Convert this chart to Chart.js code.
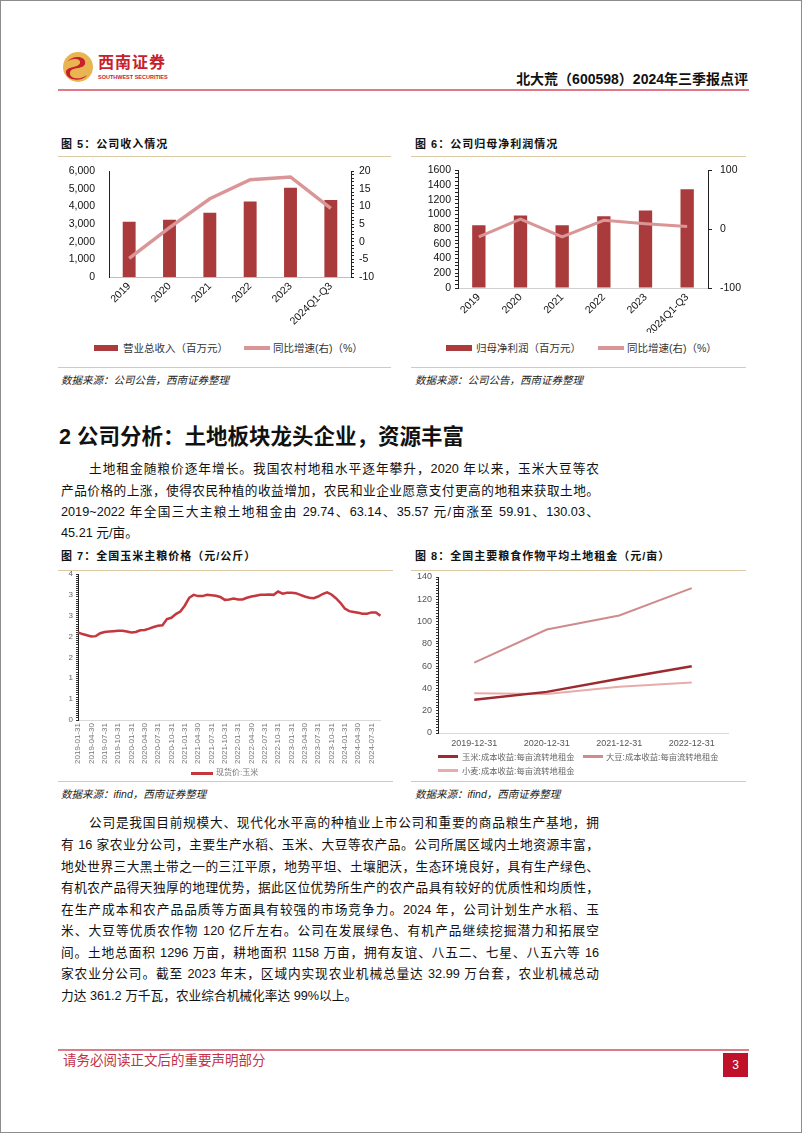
<!DOCTYPE html>
<html>
<head>
<meta charset="utf-8">
<script src="https://cdn.jsdelivr.net/npm/chart.js@4.4.0/dist/chart.umd.min.js"></script>
<style>
  html, body { margin: 0; padding: 0; background: #fff; }
  #page { position: relative; width: 802px; height: 1133px; box-sizing: border-box; border: 1px solid #8c8c8c; overflow: hidden;
          font-family: "Liberation Sans", "Noto Sans CJK SC", sans-serif; color: #111; }
  .abs { position: absolute; }
  .rule { position: absolute; height: 1px; background: #dccaa6; }
  .ftitle { position: absolute; font-size: 11px; font-weight: bold; letter-spacing: 1px; line-height: 14px; white-space: nowrap; }
  .src { position: absolute; font-size: 10.5px; font-style: italic; line-height: 14px; white-space: nowrap; color: #222; }
  .ln { position: absolute; left: 60px; width: 538px; font-size: 12.7px; line-height: 20px; white-space: nowrap;
        text-align: justify; text-align-last: justify; }
  .ln.ind { left: 88px; width: 510px; }
  .ln.last { text-align-last: left; }
  .lg { position: absolute; white-space: nowrap; line-height: 14px; }
  .sw { position: absolute; }
  canvas { position: absolute; }
</style>
</head>
<body>
<div id="page">
  <!-- header -->
  <svg class="abs" style="left:60px;top:49px" width="34" height="34" viewBox="0 0 34 34">
    <circle cx="17" cy="17" r="15" fill="#e9b552"/>
    <path d="M6 12 C12 4, 26 6, 24 14 C22 20, 10 16, 9 23 C8 28, 18 31, 26 25 C22 32, 6 31, 5 23 C4 16, 18 18, 19 13 C20 8, 10 8, 6 12 Z" fill="#c8202c"/>
  </svg>
  <div class="abs" style="left:97px;top:53px;font-size:16px;font-weight:bold;color:#c8202c;letter-spacing:1px;line-height:18px">西南证券</div>
  <div class="abs" style="left:97px;top:73px;font-size:5.5px;font-weight:bold;color:#c8202c;line-height:7px">SOUTHWEST SECURITIES</div>
  <div class="abs" style="right:53px;top:70px;font-size:14px;font-weight:bold;line-height:16px;white-space:nowrap">北大荒（600598）2024年三季报点评</div>
  <div class="abs" style="left:57px;top:88px;width:691px;height:2px;background:#e07a88"></div>

  <!-- fig 5 / fig 6 -->
  <div class="ftitle" style="left:60px;top:136px">图 5：公司收入情况</div>
  <div class="rule" style="left:57px;top:155px;width:333px"></div>
  <div class="ftitle" style="left:414px;top:136px">图 6：公司归母净利润情况</div>
  <div class="rule" style="left:410px;top:155px;width:335px"></div>

  <canvas id="c5" width="335" height="174" style="left:57px;top:158px"></canvas>
  <canvas id="c6" width="340" height="177" style="left:410px;top:155px"></canvas>

  <div class="sw" style="left:93px;top:344px;width:24px;height:6px;background:#a93b3d"></div>
  <div class="lg" style="left:122px;top:340px;font-size:10.5px;color:#333">营业总收入（百万元）</div>
  <div class="sw" style="left:243px;top:345px;width:26px;height:4px;background:#da9597"></div>
  <div class="lg" style="left:272px;top:340px;font-size:10.5px;color:#333">同比增速(右)（%）</div>

  <div class="sw" style="left:445px;top:344px;width:26px;height:6px;background:#a93b3d"></div>
  <div class="lg" style="left:475px;top:340px;font-size:10.5px;color:#333">归母净利润（百万元）</div>
  <div class="sw" style="left:597px;top:345px;width:26px;height:4px;background:#da9597"></div>
  <div class="lg" style="left:626px;top:340px;font-size:10.5px;color:#333">同比增速(右)（%）</div>

  <div class="rule" style="left:57px;top:366px;width:333px"></div>
  <div class="rule" style="left:410px;top:366px;width:335px"></div>
  <div class="src" style="left:60px;top:372px">数据来源：公司公告，西南证券整理</div>
  <div class="src" style="left:414px;top:372px">数据来源：公司公告，西南证券整理</div>

  <!-- section 2 -->
  <div class="abs" style="left:58px;top:423px;font-size:21.5px;font-weight:bold;line-height:26px;white-space:nowrap">2 公司分析：土地板块龙头企业，资源丰富</div>

  <div class="ln ind" style="top:458px">土地租金随粮价逐年增长。我国农村地租水平逐年攀升，2020 年以来，玉米大豆等农</div>
  <div class="ln" style="top:480px">产品价格的上涨，使得农民种植的收益增加，农民和业企业愿意支付更高的地租来获取土地。</div>
  <div class="ln" style="top:501px">2019~2022 年全国三大主粮土地租金由 29.74、63.14、35.57 元/亩涨至 59.91、130.03、</div>
  <div class="ln last" style="top:522px">45.21 元/亩。</div>

  <!-- fig 7 / fig 8 -->
  <div class="ftitle" style="left:60px;top:548px">图 7：全国玉米主粮价格（元/公斤）</div>
  <div class="rule" style="left:57px;top:569px;width:335px"></div>
  <div class="ftitle" style="left:414px;top:548px">图 8：全国主要粮食作物平均土地租金（元/亩）</div>
  <div class="rule" style="left:410px;top:569px;width:335px"></div>

  <canvas id="c7" width="335" height="205" style="left:57px;top:565px"></canvas>
  <canvas id="c8" width="340" height="185" style="left:410px;top:565px"></canvas>

  <div class="sw" style="left:190px;top:771px;width:22px;height:2.5px;background:#c4373f"></div>
  <div class="lg" style="left:215px;top:765px;font-size:8px;color:#777">现货价:玉米</div>

  <div class="sw" style="left:437px;top:754px;width:20px;height:2.5px;background:#9c2a2e"></div>
  <div class="lg" style="left:461px;top:749px;font-size:8.3px;color:#666">玉米:成本收益:每亩流转地租金</div>
  <div class="sw" style="left:582px;top:754px;width:20px;height:2.5px;background:#cf8b8d"></div>
  <div class="lg" style="left:605px;top:749px;font-size:8.3px;color:#666">大豆:成本收益:每亩流转地租金</div>
  <div class="sw" style="left:437px;top:768px;width:20px;height:2.5px;background:#e8abab"></div>
  <div class="lg" style="left:461px;top:763px;font-size:8.3px;color:#666">小麦:成本收益:每亩流转地租金</div>

  <div class="rule" style="left:57px;top:780px;width:335px"></div>
  <div class="rule" style="left:410px;top:780px;width:335px"></div>
  <div class="src" style="left:60px;top:786px">数据来源：ifind，西南证券整理</div>
  <div class="src" style="left:414px;top:786px">数据来源：ifind，西南证券整理</div>

  <!-- paragraph 2 -->
  <div class="ln ind" style="top:812px">公司是我国目前规模大、现代化水平高的种植业上市公司和重要的商品粮生产基地，拥</div>
  <div class="ln" style="top:834px">有 16 家农业分公司，主要生产水稻、玉米、大豆等农产品。公司所属区域内土地资源丰富，</div>
  <div class="ln" style="top:856px">地处世界三大黑土带之一的三江平原，地势平坦、土壤肥沃，生态环境良好，具有生产绿色、</div>
  <div class="ln" style="top:877px">有机农产品得天独厚的地理优势，据此区位优势所生产的农产品具有较好的优质性和均质性，</div>
  <div class="ln" style="top:899px">在生产成本和农产品品质等方面具有较强的市场竞争力。2024 年，公司计划生产水稻、玉</div>
  <div class="ln" style="top:920px">米、大豆等优质农作物 120 亿斤左右。公司在发展绿色、有机产品继续挖掘潜力和拓展空</div>
  <div class="ln" style="top:942px">间。土地总面积 1296 万亩，耕地面积 1158 万亩，拥有友谊、八五二、七星、八五六等 16</div>
  <div class="ln" style="top:963px">家农业分公司。截至 2023 年末，区域内实现农业机械总量达 32.99 万台套，农业机械总动</div>
  <div class="ln last" style="top:985px">力达 361.2 万千瓦，农业综合机械化率达 99%以上。</div>

  <!-- footer -->
  <div class="abs" style="left:57px;top:1048px;width:691px;height:2px;background:#e07a88"></div>
  <div class="abs" style="left:62px;top:1052px;font-size:13.5px;color:#c2304a;line-height:16px;white-space:nowrap">请务必阅读正文后的重要声明部分</div>
  <div class="abs" style="left:722px;top:1052px;width:25px;height:24px;background:#c0102a;color:#fff;font-size:12px;line-height:24px;text-align:center">3</div>
</div>

<script>
// ---------- data ----------
const YEARS = ['2019', '2020', '2021', '2022', '2023', '2024Q1-Q3'];
const REVENUE = [3130, 3250, 3650, 4280, 5070, 4370];          // 营业总收入（百万元）
const REVENUE_YOY = [-4.7, 4.0, 12.2, 17.6, 18.4, 9.5];        // 同比增速 %
const PROFIT = [854, 985, 854, 975, 1055, 1342];               // 归母净利润（百万元）
const PROFIT_YOY = [-13, 17, -13, 15, 9, 4.5];                 // 同比增速 %

const CORN_DATES = [
  '2019-01-31','2019-02-28','2019-03-31','2019-04-30','2019-05-31','2019-06-30','2019-07-31','2019-08-31','2019-09-30','2019-10-31','2019-11-30','2019-12-31',
  '2020-01-31','2020-02-29','2020-03-31','2020-04-30','2020-05-31','2020-06-30','2020-07-31','2020-08-31','2020-09-30','2020-10-31','2020-11-30','2020-12-31',
  '2021-01-31','2021-02-28','2021-03-31','2021-04-30','2021-05-31','2021-06-30','2021-07-31','2021-08-31','2021-09-30','2021-10-31','2021-11-30','2021-12-31',
  '2022-01-31','2022-02-28','2022-03-31','2022-04-30','2022-05-31','2022-06-30','2022-07-31','2022-08-31','2022-09-30','2022-10-31','2022-11-30','2022-12-31',
  '2023-01-31','2023-02-28','2023-03-31','2023-04-30','2023-05-31','2023-06-30','2023-07-31','2023-08-31','2023-09-30','2023-10-31','2023-11-30','2023-12-31',
  '2024-01-31','2024-02-29','2024-03-31','2024-04-30','2024-05-31','2024-06-30','2024-07-31','2024-08-31','2024-09-30'
];
const CORN_PRICE = [
  2.10, 2.06, 2.03, 2.00, 2.01, 2.08, 2.11, 2.12, 2.13, 2.14, 2.14, 2.12,
  2.10, 2.11, 2.15, 2.16, 2.19, 2.23, 2.26, 2.27, 2.42, 2.45, 2.54, 2.60,
  2.74, 2.93, 3.00, 2.97, 2.97, 3.00, 2.99, 2.98, 2.95, 2.88, 2.89, 2.91,
  2.89, 2.89, 2.93, 2.96, 2.98, 3.00, 3.00, 3.01, 3.00, 3.08, 3.03, 3.05,
  3.05, 3.04, 3.00, 2.96, 2.93, 2.92, 2.96, 3.02, 3.06, 3.01, 2.92, 2.81,
  2.67, 2.61, 2.59, 2.57, 2.55, 2.55, 2.58, 2.58, 2.50
];

const RENT_DATES = ['2019-12-31', '2020-12-31', '2021-12-31', '2022-12-31'];
const RENT_CORN = [29.74, 36.9, 48.6, 59.91];
const RENT_SOY = [63.14, 92.9, 105.4, 130.03];
const RENT_WHEAT = [35.57, 34.9, 41.4, 45.21];

// ---------- common ----------
Chart.defaults.font.family = '"Liberation Sans", "Noto Sans CJK SC", sans-serif';
Chart.defaults.animation = false;
Chart.defaults.responsive = false;
Chart.defaults.plugins.legend.display = false;
Chart.defaults.plugins.tooltip.enabled = false;

const BAR = '#a93b3d';
const YOY = '#da9597';

const fixW = w => (s => { s.width = w; });
const fixH = h => (s => { s.height = h; });

// ---------- fig 5 ----------
new Chart(document.getElementById('c5'), {
  type: 'bar',
  data: {
    labels: YEARS,
    datasets: [
      { type: 'line', data: REVENUE_YOY, yAxisID: 'y1', borderColor: YOY, borderWidth: 3.5, pointRadius: 0, tension: 0, order: 0 },
      { type: 'bar', data: REVENUE, yAxisID: 'y', backgroundColor: BAR, barPercentage: 0.32, categoryPercentage: 1, order: 1 }
    ]
  },
  options: {
    layout: { padding: { top: 11 } },
    scales: {
      x: {
        afterFit: fixH(56),
        grid: { display: false, drawTicks: false },
        border: { color: '#bfbfbf' },
        ticks: { minRotation: 45, maxRotation: 45, color: '#111', font: { size: 10.5 }, padding: 3 }
      },
      y: {
        position: 'left', min: 0, max: 6000,
        afterFit: fixW(51),
        grid: { display: false },
        border: { color: '#222' },
        ticks: { stepSize: 1000, color: '#111', font: { size: 10.5 }, padding: 6 }
      },
      y1: {
        position: 'right', min: -10, max: 20,
        afterFit: fixW(42),
        grid: { drawOnChartArea: false, color: '#222', tickLength: 3 },
        border: { color: '#222' },
        ticks: { stepSize: 1, maxTicksLimit: 100, autoSkip: false, color: '#111', font: { size: 10.5 }, padding: 5,
                 callback: v => (v % 5 === 0 ? v : '') }
      }
    }
  }
});

// ---------- fig 6 ----------
new Chart(document.getElementById('c6'), {
  type: 'bar',
  data: {
    labels: YEARS,
    datasets: [
      { type: 'line', data: PROFIT_YOY, yAxisID: 'y1', borderColor: YOY, borderWidth: 3, pointRadius: 0, tension: 0, order: 0 },
      { type: 'bar', data: PROFIT, yAxisID: 'y', backgroundColor: BAR, barPercentage: 0.32, categoryPercentage: 1, order: 1 }
    ]
  },
  options: {
    layout: { padding: { top: 9 } },
    scales: {
      x: {
        afterFit: fixH(45),
        grid: { display: false, drawTicks: false },
        border: { color: '#d0d0d0' },
        ticks: { minRotation: 45, maxRotation: 45, color: '#111', font: { size: 10.5 }, padding: 3 }
      },
      y: {
        position: 'left', min: 0, max: 1600,
        afterFit: fixW(47),
        grid: { drawOnChartArea: false, color: '#222', tickLength: 3 },
        border: { color: '#222' },
        ticks: { stepSize: 50, maxTicksLimit: 100, autoSkip: false, color: '#111', font: { size: 10.5 }, padding: 4,
                 callback: v => (v % 200 === 0 ? v : '') }
      },
      y1: {
        position: 'right', min: -100, max: 100,
        afterFit: fixW(43),
        grid: { drawOnChartArea: false, color: '#222', tickLength: 4 },
        border: { color: '#222' },
        ticks: { stepSize: 100, color: '#111', font: { size: 10.5 }, padding: 8 }
      }
    }
  }
});

// ---------- fig 7 ----------
new Chart(document.getElementById('c7'), {
  type: 'line',
  data: {
    labels: CORN_DATES,
    datasets: [
      { data: CORN_PRICE, borderColor: '#c4373f', borderWidth: 2.5, pointRadius: 0, tension: 0 }
    ]
  },
  options: {
    layout: { padding: { top: 8, right: 9 } },
    scales: {
      x: {
        afterFit: fixH(51),
        grid: { display: false, drawTicks: false },
        border: { color: '#d9d9d9' },
        ticks: { autoSkip: false, minRotation: 90, maxRotation: 90, color: '#777', font: { size: 8 }, padding: 3,
                 callback: (v, i) => (i % 3 === 0 ? CORN_DATES[i] : '') }
      },
      y: {
        min: 0, max: 3.5,
        afterFit: fixW(20),
        grid: { drawOnChartArea: false, color: '#333', tickLength: 2 },
        border: { color: '#222' },
        ticks: { stepSize: 0.05, maxTicksLimit: 100, autoSkip: false, color: '#666', font: { size: 8 }, padding: 3,
                 callback: v => (Math.abs(v * 2 - Math.round(v * 2)) < 1e-6 ? Math.round(v) : '') }
      }
    }
  }
});

// ---------- fig 8 ----------
new Chart(document.getElementById('c8'), {
  type: 'line',
  data: {
    labels: RENT_DATES,
    datasets: [
      { data: RENT_CORN, borderColor: '#9c2a2e', borderWidth: 2.5, pointRadius: 0, tension: 0 },
      { data: RENT_SOY, borderColor: '#cf8b8d', borderWidth: 2, pointRadius: 0, tension: 0 },
      { data: RENT_WHEAT, borderColor: '#e8abab', borderWidth: 2, pointRadius: 0, tension: 0 }
    ]
  },
  options: {
    layout: { padding: { top: 11, right: 23 } },
    scales: {
      x: {
        offset: true,
        afterFit: fixH(18),
        grid: { display: false, drawTicks: false },
        border: { color: '#d9d9d9' },
        ticks: { color: '#555', font: { size: 9 }, padding: 5 }
      },
      y: {
        min: 0, max: 140,
        afterFit: fixW(27),
        grid: { drawOnChartArea: false, color: '#333', tickLength: 2 },
        border: { color: '#222' },
        ticks: { stepSize: 2.5, maxTicksLimit: 100, autoSkip: false, color: '#555', font: { size: 9 }, padding: 4,
                 callback: v => (v % 20 === 0 ? v : '') }
      }
    }
  }
});
</script>
</body>
</html>
